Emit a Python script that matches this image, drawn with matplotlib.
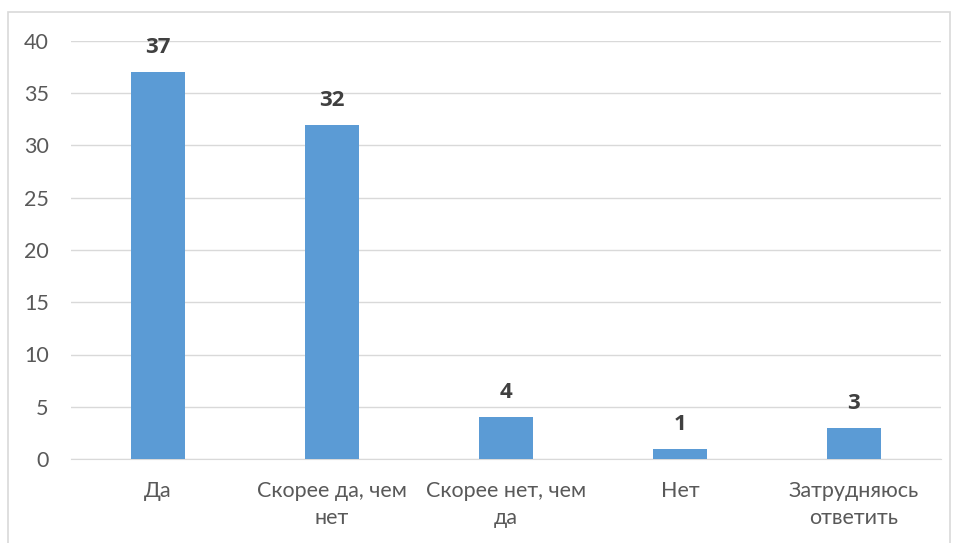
import matplotlib.pyplot as plt
from matplotlib.patches import Rectangle

categories = ["Да", "Скорее да, чем\nнет", "Скорее нет, чем\nда", "Нет", "Затрудняюсь\nответить"]
values = [37, 32, 4, 1, 3]
yticks = [0, 5, 10, 15, 20, 25, 30, 35, 40]

plt.rcParams['font.family'] = ['Lato', 'DejaVu Sans']

fig = plt.figure(figsize=(9.58, 5.43), dpi=100)
ax = fig.add_axes([71 / 958, 84 / 543, 870 / 958, 418 / 543])

# outer chart border, bottom edge falls outside the picture
fig.patches.append(Rectangle((8 / 958, -0.05), 942 / 958, (531 / 543) + 0.05,
                             transform=fig.transFigure, fill=False,
                             edgecolor="#D9D9D9", linewidth=1.2))

x = range(len(categories))
bars = ax.bar(x, values, width=0.316, color="#5B9BD5", zorder=3)

for b, v in zip(bars, values):
    ax.annotate(str(v), (b.get_x() + b.get_width() / 2, v),
                xytext=(0, 10), textcoords="offset points",
                ha="center", va="bottom", fontsize=16, fontweight="bold",
                family=["Open Sans", "DejaVu Sans"], color="#404040")

ax.set_xlim(-0.5, len(categories) - 0.5)
ax.set_ylim(0, 40)
ax.set_yticks(yticks)
ax.set_xticks(list(x))
ax.set_xticklabels(categories, linespacing=1.45)
ax.grid(axis="y", color="#D9D9D9", linewidth=1, zorder=0)
for s in ["top", "right", "left"]:
    ax.spines[s].set_visible(False)
ax.spines["bottom"].set_color("#D9D9D9")
ax.tick_params(axis="both", length=0, labelsize=15.5, colors="#595959")
ax.tick_params(axis="y", pad=16)
ax.tick_params(axis="x", pad=16)

fig.savefig("out.png", dpi=100)
